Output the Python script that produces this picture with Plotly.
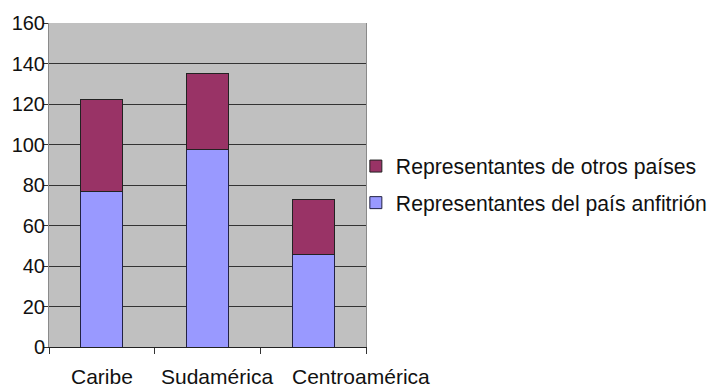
import plotly.graph_objects as go

categories = ["Caribe", "Sudamérica", "Centroamérica"]
anfitrion = [77, 97.5, 45.5]
otros = [45, 37.5, 27.5]
series_names = ["Representantes del país anfitrión", "Representantes de otros países"]
y_ticks = [0, 20, 40, 60, 80, 100, 120, 140, 160]

FONT = "Arial, Liberation Sans, sans-serif"
label_xshift = [0, 9, 48]

fig = go.Figure()
fig.add_trace(go.Bar(
    x=categories, y=anfitrion, name=series_names[0],
    marker=dict(color="#9999FF", line=dict(color="#222244", width=1)),
    legendgroup="a", legendrank=2,
))
fig.add_trace(go.Bar(
    x=categories, y=otros, name=series_names[1],
    marker=dict(color="#993366", line=dict(color="#222222", width=1)),
    legendgroup="b", legendrank=1,
))

for i, (cat, dx) in enumerate(zip(categories, label_xshift)):
    fig.add_annotation(
        x=i, y=0, xref="x", yref="y", text=cat, showarrow=False,
        xanchor="center", yanchor="middle", yshift=-29, xshift=dx,
        font=dict(family=FONT, size=21, color="#111111"),
    )

fig.update_layout(
    width=726, height=388,
    margin=dict(l=49, r=360, t=23, b=41),
    barmode="stack",
    bargap=0.6,
    paper_bgcolor="white",
    plot_bgcolor="#C0C0C0",
    font=dict(family=FONT, size=21, color="#111111"),
    showlegend=True,
    legend=dict(
        traceorder="grouped",
        x=0.968, xanchor="left",
        y=0.621, yanchor="top",
        bgcolor="rgba(0,0,0,0)",
        font=dict(family=FONT, size=21.2, color="#111111"),
        tracegroupgap=6,
        itemwidth=30,
    ),
    xaxis=dict(
        range=[-0.5, 2.5],
        showline=True, linecolor="#222222", linewidth=1,
        ticks="outside", tickson="boundaries", ticklen=6, tickcolor="#333333",
        showgrid=False, showticklabels=False,
    ),
    yaxis=dict(
        range=[0, 160], tickvals=y_ticks,
        showline=True, linecolor="#8a8a8a", linewidth=1, mirror=True,
        ticks="outside", ticklen=5, tickcolor="#333333",
        showgrid=True, gridcolor="#333333", gridwidth=1,
        zeroline=False,
        tickfont=dict(family=FONT, size=20, color="#111111"),
        ticklabelstandoff=-6,
    ),
)

fig.write_html("out.html")
